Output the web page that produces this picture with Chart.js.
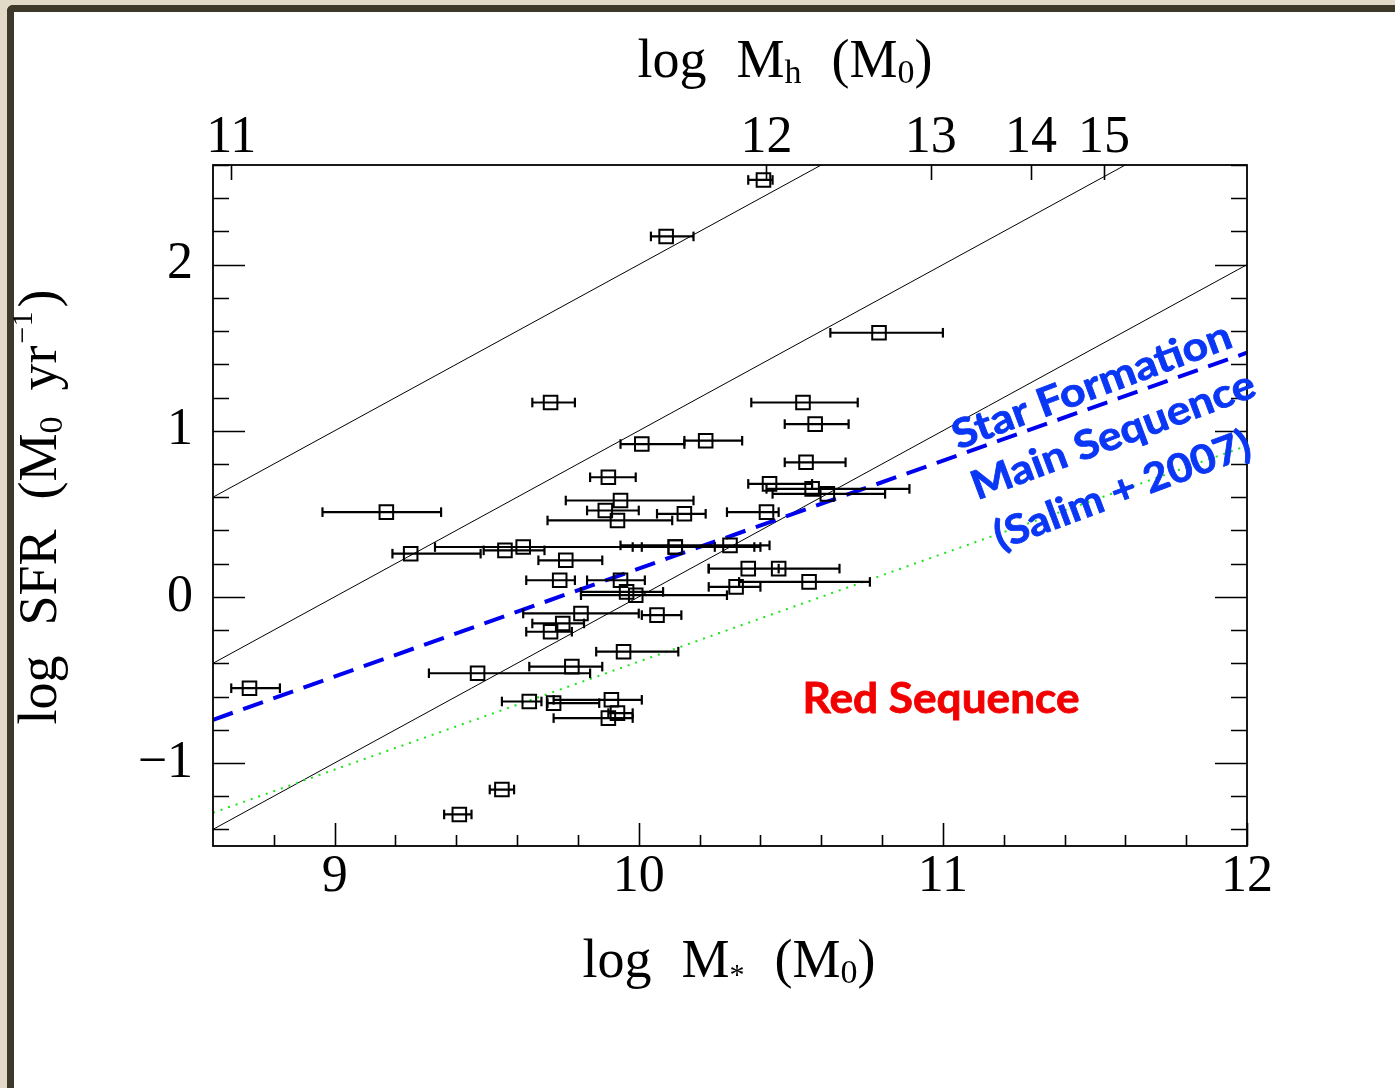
<!DOCTYPE html>
<html>
<head>
<meta charset="utf-8">
<script src="https://cdn.jsdelivr.net/npm/chart.js@4.4.1/dist/chart.umd.min.js"></script>
<style>
  html, body { margin: 0; padding: 0; width: 1395px; height: 1088px; overflow: hidden; background: #e2d9c9; }
  #sheet { position: absolute; left: 7px; top: 5px; width: 1400px; height: 1100px; background: #ffffff;
           border-left: 7px solid #3d3829; border-top: 7px solid #3d3829; border-top-left-radius: 6px; box-sizing: border-box; }
  #plot { position: absolute; left: 0; top: 0; }
</style>
</head>
<body>
<div id="sheet"></div>
<canvas id="plot" width="1395" height="1088"></canvas>
<script>
// ---- axes ----
const massTicks = [9, 10, 11, 12];
const sfrTicks = [-1, 0, 1, 2];
const haloTickLabels = ['11', '12', '13', '14', '15'];
const haloTickMass = [8.66, 10.42, 10.96, 11.29, 11.53];   // stellar mass matching each halo mass

// ---- galaxies: log M*, log SFR and the stellar-mass error range ----
const logMstar = [10.41, 10.09, 10.79, 9.71, 10.54, 10.58, 10.01, 10.22, 10.55, 9.90,
                  10.43, 10.57, 10.62, 9.94, 9.89, 9.93, 9.17, 10.15, 10.42, 9.25,
                  9.56, 9.62, 10.12, 10.30, 10.12, 9.76, 9.74, 9.94, 10.36, 10.46,
                  10.56, 10.32, 9.96, 9.99, 9.81, 10.06, 9.75, 9.71, 9.95, 9.47,
                  9.78, 8.72, 9.64, 9.72, 9.91, 9.93, 9.90, 9.55, 9.41];
const logSFR = [2.51, 2.17, 1.59, 1.17, 1.17, 1.04, 0.92, 0.94, 0.81, 0.72,
                0.68, 0.65, 0.62, 0.58, 0.52, 0.46, 0.51, 0.50, 0.51, 0.26,
                0.28, 0.30, 0.30, 0.31, 0.30, 0.22, 0.10, 0.10, 0.17, 0.17,
                0.09, 0.06, 0.03, 0.01, -0.10, -0.11, -0.16, -0.21, -0.33, -0.46,
                -0.42, -0.55, -0.63, -0.64, -0.62, -0.70, -0.73, -1.16, -1.31];
const mstarLo = [10.36, 10.04, 10.63, 9.65, 10.37, 10.48, 9.94, 10.15, 10.48, 9.84,
                 10.36, 10.42, 10.44, 9.76, 9.83, 9.70, 8.96, 10.06, 10.29, 9.19,
                 9.49, 9.33, 9.98, 9.94, 10.01, 9.67, 9.63, 9.83, 10.23, 10.23,
                 10.33, 10.23, 9.81, 9.81, 9.62, 10.01, 9.65, 9.63, 9.86, 9.31,
                 9.64, 8.66, 9.55, 9.70, 9.72, 9.90, 9.72, 9.51, 9.36];
const mstarHi = [10.44, 10.18, 11.00, 9.79, 10.72, 10.69, 10.15, 10.34, 10.68, 9.99,
                 10.57, 10.89, 10.81, 10.18, 10.00, 10.11, 9.35, 10.22, 10.46, 9.48,
                 9.69, 10.38, 10.25, 10.43, 10.40, 9.88, 9.79, 10.02, 10.46, 10.66,
                 10.76, 10.40, 10.08, 10.29, 10.00, 10.14, 9.82, 9.78, 10.13, 9.84,
                 9.88, 8.82, 9.68, 9.87, 10.01, 9.98, 9.98, 9.59, 9.45];

// ---- reference relations (end points across the mass range) ----
const relationX = [8.6, 12.0];
const ssfr8Y = [0.6, 4.0];      // log sSFR = -8
const ssfr9Y = [-0.4, 3.0];     // log sSFR = -9
const ssfr10Y = [-1.4, 2.0];    // log sSFR = -10
const salimY = [-0.74, 1.47];   // star-formation main sequence
const redSeqY = [-1.30, 0.91];  // lower envelope

const SERIF = '"Liberation Serif", "DejaVu Serif", serif';
const SANS = 'Lato, "Open Sans", "Noto Sans", sans-serif';

const pairs = (xs, ys) => xs.map((x, i) => ({ x, y: ys[i] }));

const errorSegments = [];
logMstar.forEach((m, i) => {
  errorSegments.push({ x: mstarLo[i], y: logSFR[i] }, { x: mstarHi[i], y: logSFR[i] }, { x: mstarHi[i], y: null });
});

function relationLine(ys, color, width, dash) {
  return { type: 'line', data: pairs(relationX, ys), borderColor: color, borderWidth: width,
           borderDash: dash || [], pointRadius: 0, fill: false, tension: 0, borderCapStyle: 'butt' };
}

// draws a run of text pieces (with sub/superscripts) centred on (cx, cy)
function drawRuns(ctx, runs, cx, cy, angle) {
  ctx.save();
  ctx.translate(cx, cy);
  ctx.rotate(angle);
  ctx.fillStyle = '#000';
  ctx.textBaseline = 'alphabetic';
  ctx.textAlign = 'left';
  let total = 0;
  runs.forEach(r => { ctx.font = r.s + 'px ' + SERIF; r.w = ctx.measureText(r.t).width; total += (r.gap || 0) + r.w; });
  let x = -total / 2;
  runs.forEach(r => {
    x += r.gap || 0;
    ctx.font = r.s + 'px ' + SERIF;
    ctx.fillText(r.t, x, r.dy || 0);
    x += r.w;
  });
  ctx.restore();
}

function drawNote(ctx, text, cx, cy, angleDeg, size, color, targetW) {
  ctx.save();
  ctx.font = 'bold ' + size + 'px ' + SANS;
  const w = ctx.measureText(text).width;
  ctx.translate(cx, cy);
  ctx.rotate(-angleDeg * Math.PI / 180);
  ctx.scale(targetW / w, 1);
  ctx.fillStyle = color;
  ctx.strokeStyle = color;
  ctx.lineWidth = 0.8;
  ctx.textAlign = 'center';
  ctx.textBaseline = 'middle';
  ctx.fillText(text, 0, 0);
  ctx.strokeText(text, 0, 0);
  ctx.restore();
}

const frameAndTicks = {
  id: 'frameAndTicks',
  afterDatasetsDraw(chart) {
    const { ctx, chartArea: a, scales } = chart;
    const xs = scales.x, ys = scales.y;
    ctx.save();
    ctx.strokeStyle = '#000';
    ctx.lineWidth = 1.6;
    ctx.beginPath();
    // stellar-mass ticks (bottom), every 0.2 dex
    for (let k = 44; k <= 60; k++) {
      const v = k / 5, px = Math.round(xs.getPixelForValue(v)) + 0.5;
      const len = (k % 5 === 0) ? 23 : 11;
      ctx.moveTo(px, a.bottom); ctx.lineTo(px, a.bottom - len);
    }
    // SFR ticks on both sides, every 0.2 dex
    for (let k = -7; k <= 13; k++) {
      const v = k / 5, py = Math.round(ys.getPixelForValue(v)) + 0.5;
      const len = (k % 5 === 0) ? 32 : 16;
      ctx.moveTo(a.left, py); ctx.lineTo(a.left + len, py);
      ctx.moveTo(a.right, py); ctx.lineTo(a.right - len, py);
    }
    // halo-mass ticks (top)
    haloTickMass.forEach(v => {
      const px = Math.round(xs.getPixelForValue(v)) + 0.5;
      ctx.moveTo(px, a.top); ctx.lineTo(px, a.top + 15);
    });
    ctx.stroke();
    ctx.lineWidth = 1.8;
    ctx.strokeRect(a.left, a.top, a.right - a.left, a.bottom - a.top);
    ctx.restore();
  },
  afterDraw(chart) {
    const { ctx, scales } = chart;
    const xs = scales.x, ys = scales.y;
    // axis titles
    drawRuns(ctx, [
      { t: 'log', s: 54 }, { t: 'M', s: 54, gap: 30 }, { t: 'h', s: 34, dy: 6 },
      { t: '(', s: 54, gap: 30 }, { t: 'M', s: 54 }, { t: '0', s: 34, dy: 6 }, { t: ')', s: 54 }
    ], 785, 77, 0);
    drawRuns(ctx, [
      { t: 'log', s: 54 }, { t: 'M', s: 54, gap: 30 }, { t: '*', s: 30, dy: 7 },
      { t: '(', s: 54, gap: 30 }, { t: 'M', s: 54 }, { t: '0', s: 34, dy: 6 }, { t: ')', s: 54 }
    ], 729, 977, 0);
    drawRuns(ctx, [
      { t: 'log', s: 54 }, { t: 'SFR', s: 54, gap: 30 },
      { t: '(', s: 54, gap: 30 }, { t: 'M', s: 54 }, { t: '0', s: 34, dy: 6 },
      { t: 'yr', s: 54, gap: 26 }, { t: '\u22121', s: 30, dy: -24, gap: 2 }, { t: ')', s: 54, gap: 4 }
    ], 56, 507, -Math.PI / 2);
    // annotations
    const ang = 20.5;
    drawNote(ctx, 'Star Formation', xs.getPixelForValue(11.49), ys.getPixelForValue(1.27), ang, 40, '#0a36f5', 295);
    drawNote(ctx, 'Main Sequence', xs.getPixelForValue(11.56), ys.getPixelForValue(0.97), ang, 40, '#0a36f5', 300);
    drawNote(ctx, '(Salim + 2007)', xs.getPixelForValue(11.59), ys.getPixelForValue(0.64), ang, 40, '#0a36f5', 271);
    drawNote(ctx, 'Red Sequence', xs.getPixelForValue(10.994), ys.getPixelForValue(-0.62), 0, 42, '#f20000', 277);
  }
};

new Chart(document.getElementById('plot'), {
  type: 'scatter',
  data: {
    datasets: [
      { label: 'galaxies', data: pairs(logMstar, logSFR), pointStyle: 'rect', pointRadius: 9.6,
        pointBorderWidth: 2, borderColor: '#000', backgroundColor: 'rgba(0,0,0,0)', pointHoverRadius: 9.6 },
      { label: 'mass errors', data: errorSegments, showLine: true, spanGaps: false, borderColor: '#000',
        borderWidth: 2.2, pointStyle: 'line', pointRotation: 90, pointRadius: 4.8, pointBorderWidth: 2.2,
        pointBorderColor: '#000' },
      Object.assign(relationLine(salimY, '#0000f0', 4, [21, 11]), { label: 'Salim+2007' }),
      Object.assign(relationLine(redSeqY, '#19e619', 2, [2, 6]), { label: 'red sequence' }),
      Object.assign(relationLine(ssfr8Y, '#000', 1), { label: 'sSFR -8' }),
      Object.assign(relationLine(ssfr9Y, '#000', 1), { label: 'sSFR -9' }),
      Object.assign(relationLine(ssfr10Y, '#000', 1), { label: 'sSFR -10' })
    ]
  },
  options: {
    responsive: false,
    devicePixelRatio: 1,
    animation: false,
    events: [],
    layout: { padding: { left: 0, top: 0, right: 148, bottom: 0 } },
    plugins: { legend: { display: false }, tooltip: { enabled: false }, title: { display: false } },
    scales: {
      x: {
        type: 'linear', position: 'bottom', min: 8.6, max: 12,
        grid: { display: false, drawTicks: false }, border: { display: false },
        afterBuildTicks: s => { s.ticks = massTicks.map(v => ({ value: v })); },
        afterFit: s => { s.height = 242; },
        ticks: { font: { family: SERIF, size: 52 }, color: '#000', padding: 0, autoSkip: false,
                 maxRotation: 0, minRotation: 0, callback: v => String(v) }
      },
      x2: {
        type: 'linear', position: 'top', min: 8.6, max: 12,
        grid: { display: false, drawTicks: false }, border: { display: false },
        afterBuildTicks: s => { s.ticks = haloTickMass.map(v => ({ value: v })); },
        afterFit: s => { s.height = 165; },
        ticks: { font: { family: SERIF, size: 52 }, color: '#000', padding: -5, autoSkip: false,
                 maxRotation: 0, minRotation: 0, callback: (v, i) => haloTickLabels[i] }
      },
      y: {
        type: 'linear', position: 'left', min: -1.5, max: 2.6,
        grid: { display: false, drawTicks: false }, border: { display: false },
        afterBuildTicks: s => { s.ticks = sfrTicks.map(v => ({ value: v })); },
        afterFit: s => { s.width = 213; },
        ticks: { font: { family: SERIF, size: 52 }, color: '#000', padding: 20, autoSkip: false,
                 callback: v => (v < 0 ? '\u2212' + Math.abs(v) : String(v)) }
      }
    }
  },
  plugins: [frameAndTicks]
});
</script>
</body>
</html>
